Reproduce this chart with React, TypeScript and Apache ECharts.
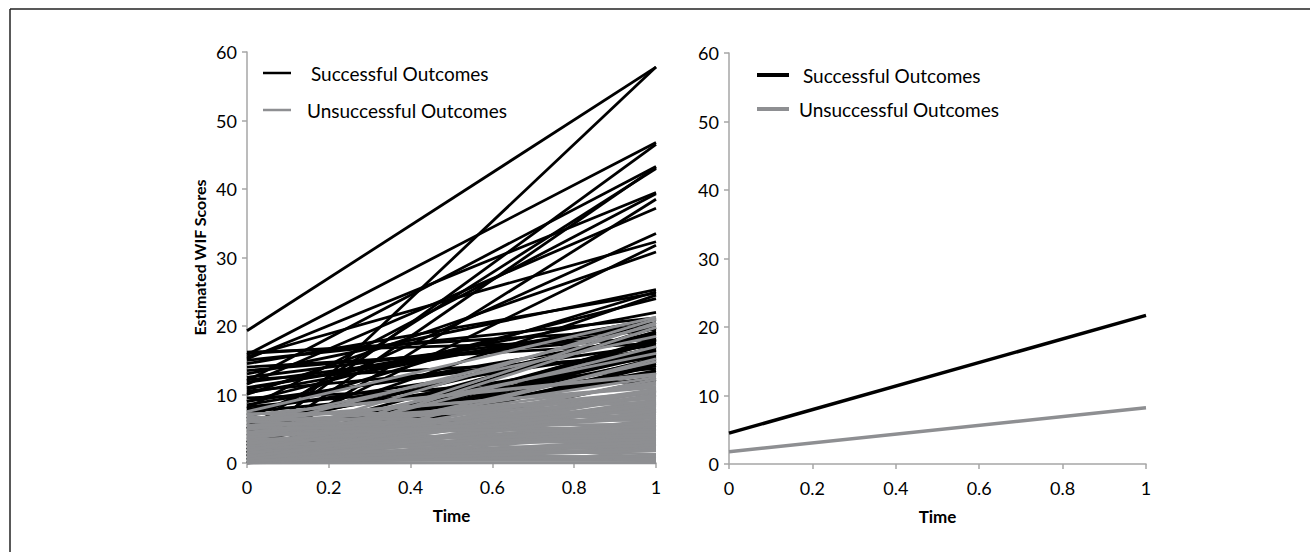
import React, { useEffect, useRef } from "react";
import * as echarts from "echarts";

// Individual trajectories (value at Time 0, value at Time 1)
const successfulStart = [19.3, 1.5, 15.8, 3.0, 12.0, 5.0, 2.0, 15.2, 8.0, 1.0, 11.5, 6.5, 15.5, 2.5, 10.0, 13.0, 7.0, 4.0, 9.0, 15.0, 16.0, 11.0, 5.5, 8.5, 0.5, 14.0, 3.5, 10.5, 6.0, 2.0, 7.5, 4.5, 9.5, 0.0, 1.0, 12.5, 5.0, 0.5, 3.0, 2.5, 1.0, 0.5, 2.0, 1.5, 0.0, 3.0, 1.0, 2.5, 0.5, 1.5, 2.0, 0.0, 9.0, 10.8, 12.2, 13.5, 14.5, 8.2, 11.8, 16.2, 7.8, 10.2];
const successfulEnd = [57.8, 57.8, 46.8, 46.5, 43.3, 43.0, 43.2, 39.5, 39.3, 38.5, 37.2, 33.5, 32.3, 31.8, 30.8, 25.3, 25.0, 24.5, 24.0, 21.2, 19.5, 20.5, 19.0, 18.5, 18.0, 17.5, 16.5, 16.0, 15.5, 17.0, 13.0, 12.5, 12.0, 14.5, 19.8, 20.0, 18.8, 16.2, 15.0, 13.5, 16.8, 18.2, 15.8, 17.6, 14.2, 19.2, 16.4, 13.2, 15.3, 17.9, 14.8, 12.2, 17.2, 22.0, 15.5, 18.4, 24.8, 13.8, 19.6, 18.0, 16.6, 21.0];
const unsuccessfulStart = [7.5, 3.0, 1.0, 5.0, 0.5, 6.0, 2.0, 4.0, 0.0, 1.5, 7.0, 3.5, 0.5, 6.5, 2.0, 0.0, 4.5, 1.0, 3.0, 0.5, 5.5, 2.5, 0.0, 1.5, 4.0, 0.2, 7.2, 1.0, 3.0, 0.0, 1.5, 5.0, 0.5, 2.5, 0.0, 6.0, 1.0, 3.5, 0.2, 2.0, 0.0, 4.5, 1.0, 0.3, 6.8, 1.5, 0.0, 3.0, 0.0, 1.2, 5.5, 0.4, 2.5, 0.0, 1.0, 0.0, 0.2, 0.8, 0.0, 1.0, 2.0, 3.0, 4.0, 5.0, 6.0, 7.0, 0.5, 1.5, 2.5, 3.5, 4.5, 5.5, 6.5, 0.2, 1.2, 2.2, 3.2, 4.2, 0.8, 1.8, 2.8, 3.8, 0.0, 0.3, 0.6, 0.9, 5.2, 6.2];
const unsuccessfulEnd = [21.3, 21.0, 20.5, 20.2, 19.8, 18.5, 17.0, 16.0, 15.2, 14.8, 13.0, 12.5, 12.2, 11.0, 10.8, 10.5, 10.2, 10.0, 9.6, 9.2, 9.0, 8.7, 8.4, 8.0, 7.8, 7.5, 7.3, 7.2, 6.6, 6.3, 6.0, 5.7, 5.5, 5.2, 5.0, 4.8, 4.6, 4.4, 4.2, 3.7, 3.5, 3.2, 3.0, 2.7, 2.5, 2.3, 2.2, 1.3, 1.1, 0.9, 0.7, 0.5, 0.3, 0.1, 0.6, 0.0, 1.0, 2.0, 9.9, 8.9, 7.9, 6.9, 11.5, 10.4, 9.4, 12.8, 5.9, 4.9, 3.9, 2.9, 8.2, 7.0, 6.2, 1.8, 2.6, 3.4, 4.1, 5.3, 10.6, 11.8, 9.8, 6.8, 7.6, 3.1, 5.6, 8.6, 4.5, 11.2];

// Average trajectories
const meanSuccessful = [4.5, 21.7];
const meanUnsuccessful = [1.8, 8.2];

const timePoints = [0, 1];
const yTicks = [0, 10, 20, 30, 40, 50, 60];

const BLACK = "#000000";
const GRAY = "#8e8f92";
const FONT = "Lato";

export default function App() {
  const ref = useRef<HTMLDivElement>(null);
  useEffect(() => {
    if (!ref.current) return;
    const chart = echarts.init(ref.current, undefined, { renderer: "svg" });

    const xAxisBase = {
      type: "value" as const,
      min: 0,
      max: 1,
      interval: 0.2,
      name: "Time",
      nameLocation: "middle" as const,
      nameGap: 44,
      nameTextStyle: { fontFamily: FONT, fontSize: 17, fontWeight: "bold", color: "#000" },
      axisLine: { show: true, lineStyle: { color: "#a6a6a6", width: 1.5 } },
      axisTick: { show: true, inside: false, length: 5, lineStyle: { color: "#a6a6a6", width: 1.5 } },
      axisLabel: { fontFamily: FONT, fontSize: 18, color: "#000", margin: 15, formatter: (v: number) => String(+v.toFixed(1)) },
      splitLine: { show: false },
    };
    const yAxisBase = {
      type: "value" as const,
      min: yTicks[0],
      max: yTicks[yTicks.length - 1],
      interval: 10,
      axisLine: { show: true, lineStyle: { color: "#a6a6a6", width: 1.5 } },
      axisTick: { show: true, inside: false, length: 5, lineStyle: { color: "#a6a6a6", width: 1.5 } },
      axisLabel: { fontFamily: FONT, fontSize: 18, color: "#000", margin: 10 },
      splitLine: { show: false },
    };

    const series: any[] = [];
    successfulStart.forEach((s, i) => {
      series.push({
        type: "line", xAxisIndex: 0, yAxisIndex: 0, symbol: "none", silent: true,
        lineStyle: { color: BLACK, width: 2.8 },
        data: [[timePoints[0], s], [timePoints[1], successfulEnd[i]]],
      });
    });
    unsuccessfulStart.forEach((s, i) => {
      series.push({
        type: "line", xAxisIndex: 0, yAxisIndex: 0, symbol: "none", silent: true,
        lineStyle: { color: GRAY, width: 2.8 },
        data: [[timePoints[0], s], [timePoints[1], unsuccessfulEnd[i]]],
      });
    });
    series.push({
      type: "line", name: "Successful Outcomes", xAxisIndex: 1, yAxisIndex: 1, symbol: "none",
      lineStyle: { color: BLACK, width: 3.5 },
      data: timePoints.map((t, i) => [t, meanSuccessful[i]]),
    });
    series.push({
      type: "line", name: "Unsuccessful Outcomes", xAxisIndex: 1, yAxisIndex: 1, symbol: "none",
      lineStyle: { color: GRAY, width: 3.5 },
      data: timePoints.map((t, i) => [t, meanUnsuccessful[i]]),
    });

    const legendText = (x: number, y: number, text: string) => ({
      type: "text", x, y,
      style: { text, fontFamily: FONT, fontSize: 19, fill: "#000", verticalAlign: "middle", align: "left" },
    });
    const legendLine = (x1: number, x2: number, y: number, color: string, w: number) => ({
      type: "line", shape: { x1, y1: y, x2, y2: y }, style: { stroke: color, lineWidth: w },
    });

    chart.setOption({
      animation: false,
      backgroundColor: "#ffffff",
      grid: [
        { left: 247, right: 654, top: 52, bottom: 89 },
        { left: 729, right: 164, top: 53, bottom: 88 },
      ],
      xAxis: [
        { ...xAxisBase, gridIndex: 0 },
        { ...xAxisBase, gridIndex: 1 },
      ],
      yAxis: [
        {
          ...yAxisBase, gridIndex: 0,
          name: "Estimated WIF Scores", nameLocation: "middle", nameGap: 40,
          nameTextStyle: { fontFamily: FONT, fontSize: 16, fontWeight: "bold", color: "#000" },
        },
        { ...yAxisBase, gridIndex: 1 },
      ],
      series,
      graphic: [
        { type: "line", shape: { x1: 10, y1: 9, x2: 1310, y2: 9 }, style: { stroke: "#222", lineWidth: 1.5 } },
        { type: "line", shape: { x1: 10, y1: 9, x2: 10, y2: 552 }, style: { stroke: "#222", lineWidth: 1.5 } },
        legendLine(263, 291, 73, BLACK, 2.5),
        legendText(311, 73, "Successful Outcomes"),
        legendLine(263, 291, 110, GRAY, 2.5),
        legendText(307, 110, "Unsuccessful Outcomes"),
        legendLine(757, 789, 75, BLACK, 4),
        legendText(803, 75, "Successful Outcomes"),
        legendLine(757, 789, 109, GRAY, 4),
        legendText(799, 109, "Unsuccessful Outcomes"),
      ],
    });
    return () => chart.dispose();
  }, []);
  return <div ref={ref} style={{ position: "fixed", left: 0, top: 0, width: 1310, height: 552, background: "#fff" }} />;
}
